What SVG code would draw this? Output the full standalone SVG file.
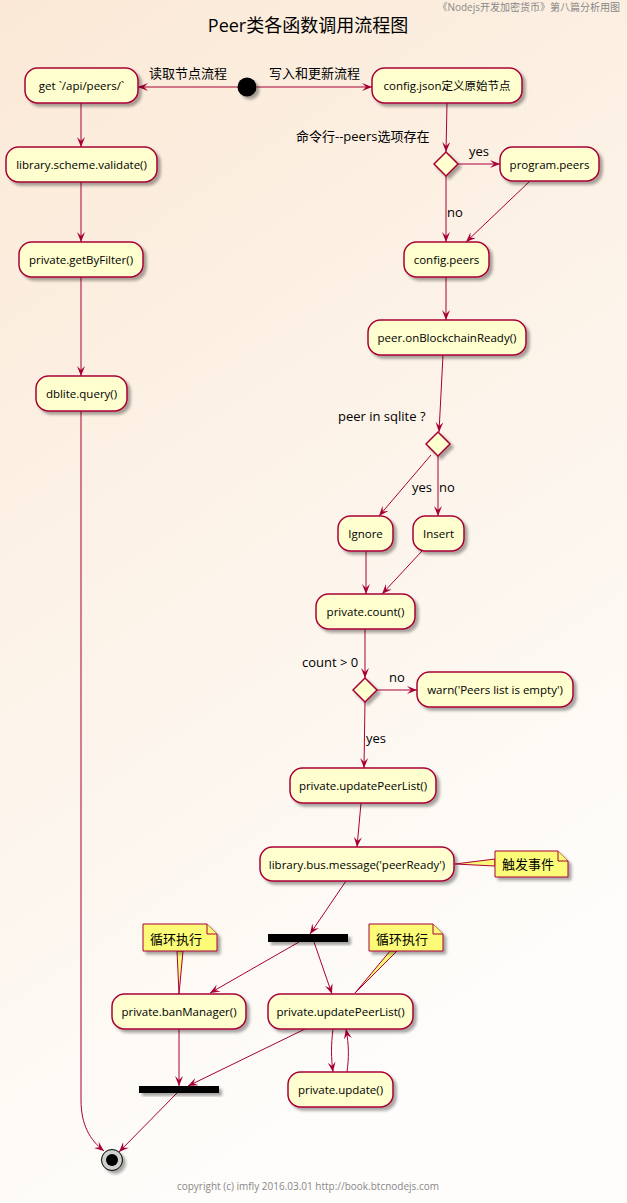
<svg xmlns="http://www.w3.org/2000/svg" width="627" height="1203" viewBox="0 0 627 1203">
<defs>
<linearGradient id="bg" x1="0" y1="0" x2="0.35" y2="1">
<stop offset="0" stop-color="#FBE9D6"/>
<stop offset="1" stop-color="#FEFDFB"/>
</linearGradient>
<filter id="sh" x="-20%" y="-30%" width="150%" height="180%">
<feGaussianBlur in="SourceAlpha" stdDeviation="1.6"/>
<feOffset dx="3" dy="3" result="o"/>
<feComponentTransfer><feFuncA type="linear" slope="0.35"/></feComponentTransfer>
<feMerge><feMergeNode/><feMergeNode in="SourceGraphic"/></feMerge>
</filter>
<marker id="ah" viewBox="0 0 10 8" refX="10" refY="4" markerWidth="10" markerHeight="8" orient="auto" markerUnits="userSpaceOnUse">
<path d="M0,0 L10,4 L0,8 L4,4 Z" fill="#A80036"/>
</marker>
</defs>
<style>
text{font-family:"Open Sans","Noto Sans CJK SC",sans-serif;fill:#000}
.n rect{fill:#FEFECE;stroke:#A80036;stroke-width:1.5}
.n text{font-size:11.5px;text-anchor:middle}
.d{fill:#FEFECE;stroke:#A80036;stroke-width:1.5}
.lbl{font-size:13px}
.e{fill:none;stroke:#A80036;stroke-width:1;marker-end:url(#ah)}
.nt{fill:#FBFB77;stroke:#A80036;stroke-width:1}
.ntx{font-size:13px}
.gray{fill:#888}
</style>
<rect x="0" y="0" width="627" height="1203" fill="url(#bg)"/>
<text x="620" y="11" class="gray" style="font-size:10px;text-anchor:end">《Nodejs开发加密货币》第八篇分析用图</text>
<text x="308" y="32" style="font-size:18px;text-anchor:middle">Peer类各函数调用流程图</text>

<g id="connectors">
<path class="e" d="M238,87 L138,87"/>
<path class="e" d="M257,87 L372,87"/>
<path class="e" d="M81,103 L81,147"/>
<path class="e" d="M81,182 L81,242"/>
<path class="e" d="M81,277 L81,376"/>
<path class="e" d="M81,411 L81,1100 C81,1125 90,1140 104,1151"/>
<path class="e" d="M447,103 L446,152"/>
<path class="e" d="M458,164 L500,164"/>
<path class="e" d="M446,176 L446,242"/>
<path class="e" d="M530,181 L466,242"/>
<path class="e" d="M446,277 L446,320"/>
<path class="e" d="M443,355 L439,432"/>
<path class="e" d="M431,455 L379,516"/>
<path class="e" d="M438,456 L438,516"/>
<path class="e" d="M366,551 L366,594"/>
<path class="e" d="M422,551 L382,594"/>
<path class="e" d="M365,629 L365,678"/>
<path class="e" d="M377,690 L417,690"/>
<path class="e" d="M365,702 L364,768"/>
<path class="e" d="M361,803 L357,847"/>
<path class="e" d="M346,881 L310,934"/>
<path class="e" d="M299,942 L210,993"/>
<path class="e" d="M314,942 L332,994"/>
<path class="e" d="M179,1029 L179,1086"/>
<path class="e" d="M305,1029 L188,1086"/>
<path class="e" d="M333,1029 C331,1045 331,1058 333,1072"/>
<path class="e" d="M347,1072 C349,1058 349,1045 346,1029"/>
<path class="e" d="M177,1093 L119,1152"/>
<text class="lbl" x="149" y="78">读取节点流程</text>
<text class="lbl" x="269" y="78">写入和更新流程</text>
<text class="lbl" x="296" y="141">命令行--peers选项存在</text>
<text class="lbl" x="469" y="156">yes</text>
<text class="lbl" x="447" y="217">no</text>
<text class="lbl" x="338" y="421">peer in sqlite ?</text>
<text class="lbl" x="412" y="492">yes</text>
<text class="lbl" x="439" y="492">no</text>
<text class="lbl" x="302" y="667">count &gt; 0</text>
<text class="lbl" x="389" y="682">no</text>
<text class="lbl" x="366" y="743">yes</text>
</g>

<g id="start"><circle cx="247" cy="87" r="9.5" fill="#000" filter="url(#sh)"/></g>

<g id="n-get" class="n"><rect x="25" y="68" width="113" height="35" rx="12.5" filter="url(#sh)"/><text x="81.5" y="90">get `/api/peers/`</text></g>
<g id="n-validate" class="n"><rect x="6" y="147" width="151" height="35" rx="12.5" filter="url(#sh)"/><text x="81.5" y="169">library.scheme.validate()</text></g>
<g id="n-getByFilter" class="n"><rect x="19" y="242" width="124" height="35" rx="12.5" filter="url(#sh)"/><text x="81" y="264">private.getByFilter()</text></g>
<g id="n-dblite" class="n"><rect x="36" y="376" width="91" height="35" rx="12.5" filter="url(#sh)"/><text x="81.5" y="398">dblite.query()</text></g>

<g id="n-configjson" class="n"><rect x="372" y="68" width="150" height="35" rx="12.5" filter="url(#sh)"/><text x="447" y="90">config.json定义原始节点</text></g>
<g id="d-peersopt"><polygon class="d" points="446,152 458,164 446,176 434,164" filter="url(#sh)"/></g>
<g id="n-programpeers" class="n"><rect x="500" y="147" width="99" height="34" rx="12.5" filter="url(#sh)"/><text x="549.5" y="168.5">program.peers</text></g>
<g id="n-configpeers" class="n"><rect x="404" y="242" width="85" height="35" rx="12.5" filter="url(#sh)"/><text x="446.5" y="264">config.peers</text></g>
<g id="n-onready" class="n"><rect x="368" y="320" width="158" height="35" rx="12.5" filter="url(#sh)"/><text x="447" y="342">peer.onBlockchainReady()</text></g>
<g id="d-sqlite"><polygon class="d" points="438,432 450,444 438,456 426,444" filter="url(#sh)"/></g>
<g id="n-ignore" class="n"><rect x="338" y="516" width="55" height="35" rx="12.5" filter="url(#sh)"/><text x="365.5" y="538">Ignore</text></g>
<g id="n-insert" class="n"><rect x="413" y="516" width="51" height="35" rx="12.5" filter="url(#sh)"/><text x="438.5" y="538">Insert</text></g>
<g id="n-count" class="n"><rect x="316" y="594" width="99" height="35" rx="12.5" filter="url(#sh)"/><text x="365.5" y="616">private.count()</text></g>
<g id="d-count"><polygon class="d" points="365,678 377,690 365,702 353,690" filter="url(#sh)"/></g>
<g id="n-warn" class="n"><rect x="417" y="672" width="156" height="35" rx="12.5" filter="url(#sh)"/><text x="495" y="694">warn('Peers list is empty')</text></g>
<g id="n-update1" class="n"><rect x="290" y="768" width="146" height="35" rx="12.5" filter="url(#sh)"/><text x="363" y="790">private.updatePeerList()</text></g>
<g id="n-message" class="n"><rect x="260" y="847" width="194" height="34" rx="12.5" filter="url(#sh)"/><text x="357" y="868.5">library.bus.message('peerReady')</text></g>

<g id="note-event">
<polygon class="nt" points="455,864 495,859 495,866"/>
<path class="nt" d="M495,851 L558,851 L568,861 L568,877 L495,877 Z" filter="url(#sh)"/>
<path class="nt" d="M558,851 L558,861 L568,861"/>
<text class="ntx" x="502" y="869">触发事件</text>
</g>

<g id="fork1"><rect x="268" y="934" width="80" height="8" fill="#000" filter="url(#sh)"/></g>

<g id="note-loop1">
<polygon class="nt" points="177,951 179,994 183,951"/>
<path class="nt" d="M143,924 L207,924 L217,934 L217,951 L143,951 Z" filter="url(#sh)"/>
<path class="nt" d="M207,924 L207,934 L217,934"/>
<text class="ntx" x="150" y="944">循环执行</text>
</g>
<g id="note-loop2">
<polygon class="nt" points="390,951 355,993 397,951"/>
<path class="nt" d="M369,924 L433,924 L443,934 L443,951 L369,951 Z" filter="url(#sh)"/>
<path class="nt" d="M433,924 L433,934 L443,934"/>
<text class="ntx" x="376" y="944">循环执行</text>
</g>

<g id="n-ban" class="n"><rect x="112" y="994" width="134" height="35" rx="12.5" filter="url(#sh)"/><text x="179" y="1016">private.banManager()</text></g>
<g id="n-update2" class="n"><rect x="268" y="994" width="145" height="35" rx="12.5" filter="url(#sh)"/><text x="340.5" y="1016">private.updatePeerList()</text></g>
<g id="n-update" class="n"><rect x="288" y="1072" width="105" height="35" rx="12.5" filter="url(#sh)"/><text x="340.5" y="1094">private.update()</text></g>

<g id="join"><rect x="139" y="1086" width="80" height="7" fill="#000" filter="url(#sh)"/></g>

<g id="end">
<circle cx="112" cy="1160" r="10.5" fill="#CFCFCF" stroke="#000" stroke-width="1" filter="url(#sh)"/>
<circle cx="112" cy="1160" r="6" fill="#000"/>
</g>

<text x="308" y="1190" class="gray" style="font-size:10px;text-anchor:middle">copyright (c) imfly 2016.03.01 http://book.btcnodejs.com</text>
</svg>
